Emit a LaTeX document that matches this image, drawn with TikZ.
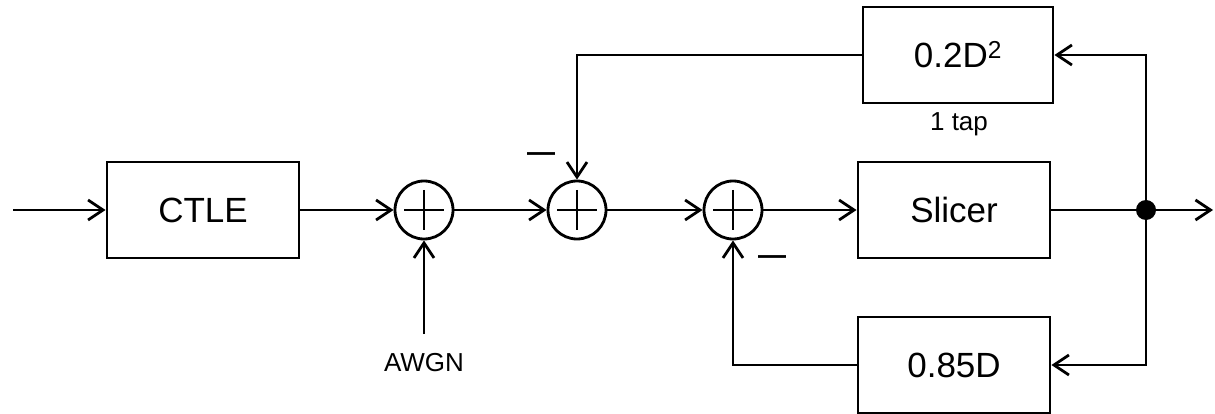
\documentclass[tikz,border=0pt]{standalone}
\usepackage{fontspec}
\setmainfont{Liberation Sans}
\usetikzlibrary{arrows.meta}
\begin{document}
\begin{tikzpicture}[x=1pt,y=-1pt,
  line width=2.8pt,
  blk/.style={draw, minimum width=192pt, minimum height=96pt, inner sep=0pt, font=\fontsize{35}{40}\selectfont},
  sumnode/.style={draw, circle, minimum size=58pt, inner sep=0pt},
  arr/.style={-{Straight Barb[length=15pt,width=20pt]}},
  lbl/.style={inner sep=0pt, font=\fontsize{26}{30}\selectfont},
  minus/.style={inner sep=0pt, font=\bfseries\fontsize{28}{30}\selectfont},
]
\useasboundingbox (0,0) rectangle (1215,414);
\node[blk] (ctle) at (203,210) {CTLE};
\node[sumnode] (s1) at (424,210) {};
\node[sumnode] (s2) at (577,210) {};
\node[sumnode] (s3) at (733,210) {};
\node[blk] (slicer) at (954,210) {Slicer};
\node[blk, minimum width=190pt] (d2) at (958,55) {0.2D\textsuperscript{2}};
\node[blk] (d1) at (954,365) {0.85D};
\node[lbl] (tap) at (959,124) {1 tap};
\node[lbl] (awgn) at (424,363) {AWGN};
\node[minus] (m1) at (541,157) {—};
\node[minus] (m2) at (772,260) {—};
\foreach \s in {s1,s2,s3}{
  \draw (\s.center) +(-20,0) -- +(20,0);
  \draw (\s.center) +(0,-20) -- +(0,20);
}
\coordinate (in) at (13,210);
\coordinate (out) at (1213,210);
\coordinate (j) at (1146,210);
\coordinate (aw) at (424,334);
\draw[arr] (in) -- (ctle.west);
\draw[arr] (ctle.east) -- (s1.west);
\draw[arr] (s1.east) -- (s2.west);
\draw[arr] (s2.east) -- (s3.west);
\draw[arr] (s3.east) -- (slicer.west);
\draw[arr] (slicer.east) -- (out);
\draw[arr] (aw) -- (s1.south);
\draw[arr] (j) |- (d2.east);
\draw[arr] (j) |- (d1.east);
\draw[arr] (d2.west) -| (s2.north);
\draw[arr] (d1.west) -| (s3.south);
\fill (j) circle (10pt);
\end{tikzpicture}
\end{document}
